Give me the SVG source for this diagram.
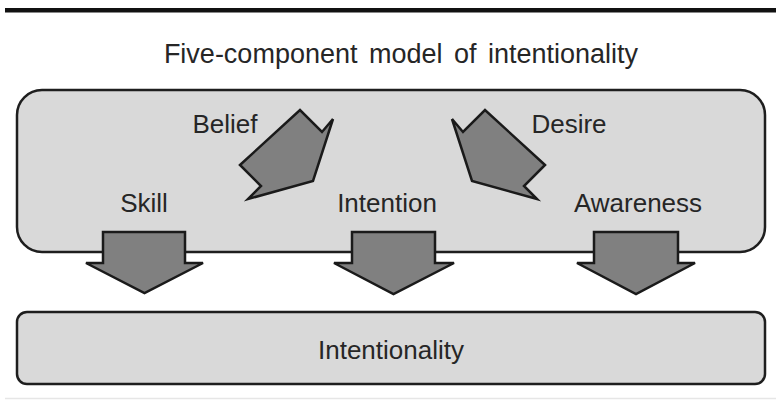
<svg xmlns="http://www.w3.org/2000/svg" width="776" height="401" viewBox="0 0 776 401">
<style>
.box{fill:#d9d9d9;stroke:#1e1e1e;stroke-width:2.5}
.arr{fill:#808080;stroke:#1a1a1a;stroke-width:2.5;stroke-linejoin:miter}
.t{font-family:"Liberation Sans",Arial,sans-serif;font-size:26px;fill:#262626;text-anchor:middle}
</style>
<rect x="5" y="8" width="771" height="4.5" fill="#111"/>
<line x1="5" y1="398.5" x2="776" y2="398.5" stroke="#e6e6e6" stroke-width="1.5"/>
<text class="t" x="401" y="63" style="font-size:27px" word-spacing="4">Five-component model of intentionality</text>
<g id="model">
<rect class="box" x="17" y="90" width="748" height="162" rx="25" ry="25"/>
</g>
<g id="skill"><text class="t" x="144" y="212">Skill</text></g>
<g id="belief"><text class="t" x="225" y="133">Belief</text></g>
<g id="intention"><text class="t" x="387" y="212">Intention</text></g>
<g id="desire"><text class="t" x="569" y="133">Desire</text></g>
<g id="awareness"><text class="t" x="638" y="212">Awareness</text></g>
<g id="intentionality">
<rect class="box" x="17" y="312" width="748" height="72" rx="10" ry="10"/>
<text class="t" x="391" y="359">Intentionality</text>
</g>
<g id="connectors">
<polygon class="arr" points="240,165 300,110 322,132 333,119 313,181 248,199 261,186"/>
<polygon class="arr" points="545,165 485,110 463,132 452,119 472,181 537,199 524,186"/>
<polygon class="arr" points="103,232 185,232 185,263 203,263 144.5,293 86,263 103,263"/>
<polygon class="arr" points="352,232 435,232 435,263 454,263 393.5,294 334,263 352,263"/>
<polygon class="arr" points="594,232 678,232 678,263 695,263 636,294 577,263 594,263"/>
</g>
</svg>
